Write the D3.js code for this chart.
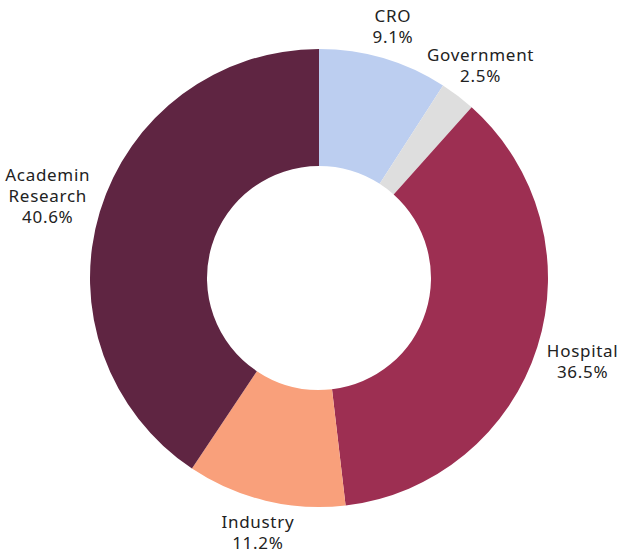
<!DOCTYPE html>
<html>
<head>
<meta charset="utf-8">
<script src="https://cdn.jsdelivr.net/npm/d3@7"></script>
<style>
  body { margin: 0; background: #fff; }
  svg { display: block; }
</style>
</head>
<body>
<div id="chart"></div>
<script>
var labels = [["CRO"], ["Government"], ["Hospital"], ["Industry"], ["Academin", "Research"]];
var values = [9.1, 2.5, 36.5, 11.2, 40.6];
var colors = ["#bccef0", "#dedede", "#9d2f52", "#f9a07b", "#5f2542"];

var width = 620, height = 552;
var cx = 319, cy = 278;
var outer = 229, inner = 112, pad = 10;

var svg = d3.select("#chart").append("svg")
    .attr("width", width)
    .attr("height", height);

var g = svg.append("g")
    .attr("transform", "translate(" + cx + "," + cy + ")");

var pie = d3.pie().sort(null).value(function (d) { return d; });
var arcs = pie(values);

var arc = d3.arc().innerRadius(inner).outerRadius(outer);

g.selectAll("path.slice")
    .data(arcs)
    .enter().append("path")
    .attr("class", "slice")
    .attr("fill", function (d, i) { return colors[i]; })
    .attr("d", arc);

// labels outside, pushed out by their own box size
var lineH = 21;
arcs.forEach(function (d, i) {
    var lines = labels[i].concat([values[i].toFixed(1) + "%"]);
    var t = g.append("text")
        .attr("text-anchor", "middle")
        .style("font-family", "'Noto Sans', sans-serif")
        .style("font-size", "17px")
        .style("letter-spacing", "0.7px")
        .style("fill", "#222");
    lines.forEach(function (s, j) {
        t.append("tspan")
            .attr("x", 0)
            .attr("y", (j - (lines.length - 1) / 2) * lineH)
            .attr("dy", "0.35em")
            .text(s);
    });
    var bb = t.node().getBBox();
    var a = (d.startAngle + d.endAngle) / 2;
    var s = Math.abs(Math.sin(a)), c = Math.abs(Math.cos(a));
    var half = Math.min(s > 1e-6 ? bb.width / 2 / s : Infinity, c > 1e-6 ? bb.height / 2 / c : Infinity);
    var r = outer + pad + half;
    t.attr("transform", "translate(" + (r * Math.sin(a)) + "," + (-r * Math.cos(a)) + ")");
});
</script>
</body>
</html>
